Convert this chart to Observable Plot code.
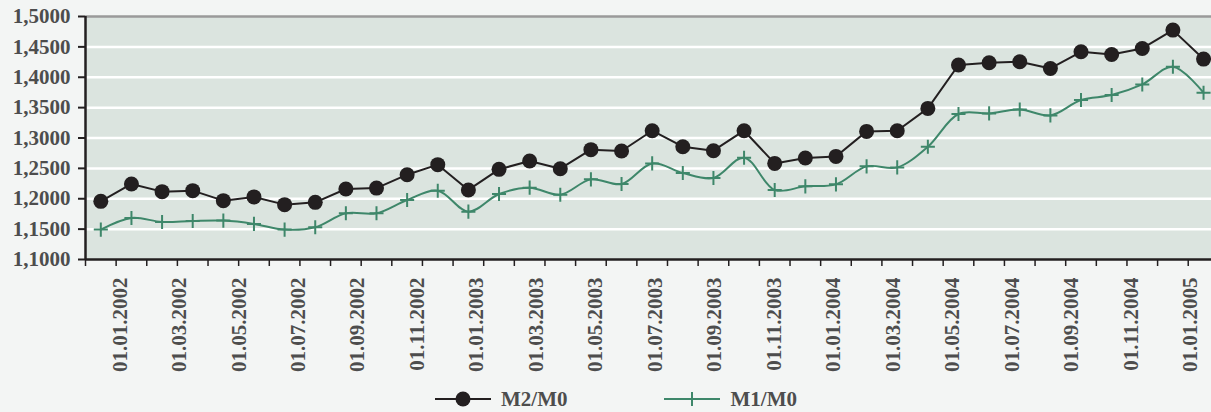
<!DOCTYPE html>
<html>
<head>
<meta charset="utf-8">
<script src="https://cdn.jsdelivr.net/npm/d3@7"></script>
<script src="https://cdn.jsdelivr.net/npm/@observablehq/plot@0.6"></script>
<style>
  html, body { margin: 0; padding: 0; background: #f3f5f4; }
  body { width: 1211px; height: 412px; overflow: hidden; font-family: "Liberation Serif", "Times New Roman", serif; font-weight: bold; color: #4d4d4d; }
  #legend { display: flex; align-items: center; height: 26px; margin-top: 1px; padding-left: 435px; font-size: 21px; line-height: 22px; }
  #legend .item { display: flex; align-items: center; }
  #legend .item span { margin-left: 10px; }
</style>
</head>
<body>
<div id="chart"></div>
<div id="legend"></div>
<script>
// Series (monthly observations, 37 points)
const m2m0 = [1.1957, 1.2243, 1.2117, 1.2133, 1.1969, 1.2030, 1.1903, 1.1941, 1.2161, 1.2175,
              1.2396, 1.2561, 1.2145, 1.2484, 1.2622, 1.2495, 1.2808, 1.2786, 1.3120, 1.2857,
              1.2791, 1.3120, 1.2582, 1.2671, 1.2697, 1.3109, 1.3120, 1.3487, 1.4201, 1.4238,
              1.4255, 1.4145, 1.4419, 1.4375, 1.4474, 1.4776, 1.4299];
const m1m0 = [1.1492, 1.1684, 1.1618, 1.1635, 1.1640, 1.1586, 1.1492, 1.1530, 1.1760, 1.1762,
              1.1980, 1.2133, 1.1788, 1.2078, 1.2183, 1.2067, 1.2319, 1.2243, 1.2582, 1.2424,
              1.2342, 1.2676, 1.2145, 1.2204, 1.2237, 1.2533, 1.2516, 1.2857, 1.3395, 1.3405,
              1.3470, 1.3372, 1.3625, 1.3707, 1.3882, 1.4173, 1.3745];
const seriesNames = ["M2/M0", "M1/M0"];
const xTickLabels = ["01.01.2002", "01.03.2002", "01.05.2002", "01.07.2002", "01.09.2002", "01.11.2002",
                     "01.01.2003", "01.03.2003", "01.05.2003", "01.07.2003", "01.09.2003", "01.11.2003",
                     "01.01.2004", "01.03.2004", "01.05.2004", "01.07.2004", "01.09.2004", "01.11.2004",
                     "01.01.2005"];
const yTicks = [1.10, 1.15, 1.20, 1.25, 1.30, 1.35, 1.40, 1.45, 1.50];

const C_M2 = "#231f20", C_M1 = "#3e876a", C_TEXT = "#4d4d4d", C_PLOT = "#dbe4df";

const rows2 = m2m0.map((v, i) => ({i, v}));
const rows1 = m1m0.map((v, i) => ({i, v}));
const n = m2m0.length;

// category boundaries (tick marks between observations)
const boundaries = d3.range(n + 1).map(k => k - 0.5);
// date labels placed along the category axis
const monthsSince = s => { const [dd, mm, yy] = s.split(".").map(Number); return (yy - 2002) * 12 + (mm - 1); };
const firstLabelIdx = 0.62, idxPerMonth = 0.971;
const labelPos = xTickLabels.map(s => firstLabelIdx + monthsSince(s) * idxPerMonth);
const labelByPos = new Map(labelPos.map((p, j) => [p, xTickLabels[j]]));

const chart = Plot.plot({
  width: 1211,
  height: 385,
  marginLeft: 85,
  marginRight: 0,
  marginTop: 16,
  marginBottom: 126,
  style: {background: "transparent", fontFamily: "'Liberation Serif', 'Times New Roman', serif", fontWeight: "bold", fontSize: "21px", overflow: "visible"},
  x: {type: "linear", domain: [-0.5, 36.26]},
  y: {domain: [1.1, 1.5]},
  marks: [
    Plot.frame({fill: C_PLOT, stroke: null}),
    Plot.gridY(yTicks.slice(1, -1), {stroke: "white", strokeOpacity: 1, strokeWidth: 2.5}),
    Plot.ruleY([1.5], {stroke: "#9a9a9a", strokeWidth: 2.5}),
    Plot.axisY(yTicks, {tickSize: 7, tickPadding: 8, stroke: C_M2, strokeWidth: 2, fill: C_TEXT,
      tickFormat: d => d.toFixed(4).replace(".", ","), label: null, fontSize: 21}),
    Plot.axisX(boundaries, {tickSize: 7, tickFormat: () => "", stroke: C_M2, strokeWidth: 1.5, label: null}),
    Plot.axisX(labelPos, {tickSize: 0, tickPadding: 18, tickRotate: -90, fill: C_TEXT,
      tickFormat: p => labelByPos.get(p), label: null, fontSize: 21}),
    Plot.ruleY([1.1], {stroke: C_M2, strokeWidth: 2.5}),
    Plot.ruleX([-0.5], {stroke: C_M2, strokeWidth: 2.5}),
    Plot.line(rows1, {x: "i", y: "v", stroke: C_M1, strokeWidth: 2, curve: "catmull-rom"}),
    Plot.dot(rows1, {x: "i", y: "v", symbol: "plus", r: 4.6, stroke: C_M1, strokeWidth: 2}),
    Plot.line(rows2, {x: "i", y: "v", stroke: C_M2, strokeWidth: 2}),
    Plot.dot(rows2, {x: "i", y: "v", r: 7.5, fill: C_M2, stroke: null})
  ]
});
document.getElementById("chart").append(chart);

// Legend
const legend = document.getElementById("legend");
const markers = [
  `<svg width="56" height="18"><line x1="0" y1="9" x2="56" y2="9" stroke="${C_M2}" stroke-width="2"/><circle cx="28" cy="9" r="7.5" fill="${C_M2}"/></svg>`,
  `<svg width="56" height="18"><line x1="0" y1="9" x2="56" y2="9" stroke="${C_M1}" stroke-width="2"/><line x1="28" y1="2" x2="28" y2="16" stroke="${C_M1}" stroke-width="2"/></svg>`
];
seriesNames.forEach((name, k) => {
  const item = document.createElement("div");
  item.className = "item";
  if (k > 0) item.style.marginLeft = "97px";
  item.innerHTML = markers[k] + `<span>${name}</span>`;
  legend.append(item);
});
</script>
</body>
</html>
